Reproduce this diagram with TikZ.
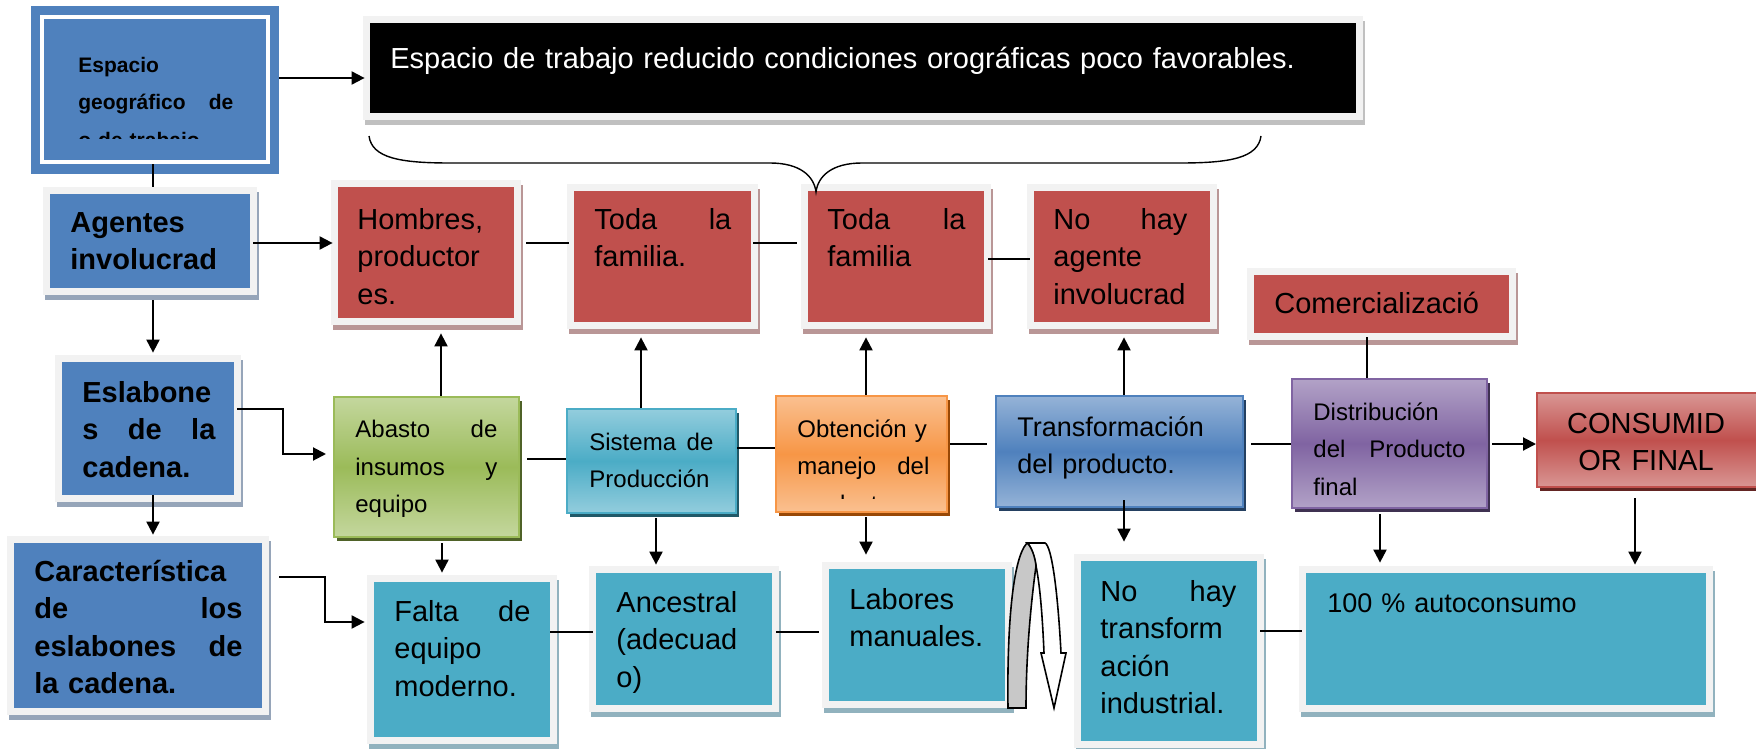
\documentclass[tikz,border=0pt]{standalone}
\usepackage{fontspec}
\setmainfont{Liberation Sans}
\usetikzlibrary{fit,arrows.meta}
\definecolor{bl}{RGB}{79,129,189}
\definecolor{rd}{RGB}{192,80,77}
\definecolor{tl}{RGB}{75,172,198}
\definecolor{fr}{RGB}{242,242,242}
\definecolor{shR}{RGB}{185,150,150}
\definecolor{shB}{RGB}{150,165,185}
\definecolor{shT}{RGB}{145,178,190}
\definecolor{shK}{RGB}{192,192,192}
\definecolor{gL}{RGB}{196,215,158}\definecolor{gM}{RGB}{155,187,89}\definecolor{gS}{RGB}{79,98,40}
\definecolor{tL}{RGB}{147,205,221}\definecolor{tM}{RGB}{75,172,198}\definecolor{tS}{RGB}{33,89,104}
\definecolor{oL}{RGB}{250,192,144}\definecolor{oM}{RGB}{247,150,70}\definecolor{oS}{RGB}{152,72,6}
\definecolor{bL}{RGB}{149,179,215}\definecolor{bM}{RGB}{79,129,189}\definecolor{bS}{RGB}{36,64,97}
\definecolor{pL}{RGB}{178,162,199}\definecolor{pM}{RGB}{128,100,162}\definecolor{pS}{RGB}{63,49,81}
\definecolor{rL}{RGB}{217,150,148}\definecolor{rM}{RGB}{192,80,77}\definecolor{rS}{RGB}{99,37,35}
\newcommand\jl[2]{\makebox[\linewidth]{#1\hfill #2}}
\newcommand\jlt[3]{\makebox[\linewidth]{#1\hfill #2\hfill #3}}
\begin{document}
\begin{tikzpicture}[x=0.5pt,y=-0.5pt,
  fbox/.style 2 args={inner sep=0pt, fill=#1,
     preaction={fill=#2, draw=#2, line width=7pt, transform canvas={shift={(1pt,-2.5pt)}}},
     preaction={draw=fr, line width=7pt}},
  gbox/.style n args={4}{inner sep=0pt, top color=#1, bottom color=#1, middle color=#2, draw=#3, line width=1pt,
     preaction={fill=#4, transform canvas={shift={(1.5pt,-2pt)}}}},
  txt/.style={anchor=base west, inner sep=0pt, align=left, font=\fontsize{14.5pt}{18.75pt}\selectfont},
  txtb/.style={txt, font=\bfseries\fontsize{14.5pt}{18.75pt}\selectfont},
  txts/.style={txt, font=\fontsize{12pt}{18.75pt}\selectfont},
  arr/.style={line width=1pt, -{Triangle[length=6.5pt,width=6.5pt]}},
  ln/.style={line width=1pt}]
\useasboundingbox (0,0) rectangle (1756,749);
\fill[white] (0,0) rectangle (1756,749);

% ---- boxes
\node[inner sep=0pt, fill=bl, fit={(31,6)(279,174)}] (esp) {};
\node[inner sep=0pt, fill=bl, draw=white, line width=2pt, fit={(42,17)(268,162)}] (espIn) {};
\node[fbox={black}{shK}, fit={(370,23)(1356,113)}] (blk) {};
\node[fbox={bl}{shB}, fit={(50,194)(250,288)}] (ag) {};
\node[fbox={bl}{shB}, fit={(62,362)(234,495)}] (esl) {};
\node[fbox={bl}{shB}, fit={(14,543)(262,708)}] (car) {};
\node[fbox={rd}{shR}, fit={(338,187)(514,318)}] (hom) {};
\node[fbox={rd}{shR}, fit={(574,191)(751,322)}] (t1) {};
\node[fbox={rd}{shR}, fit={(808,191)(984,322)}] (t2) {};
\node[fbox={rd}{shR}, fit={(1034,191)(1210,322)}] (nh) {};
\node[fbox={rd}{shR}, fit={(1254,275)(1509,333)}] (com) {};
\node[fbox={tl}{shT}, fit={(374,582)(550,737)}] (fal) {};
\node[fbox={tl}{shT}, fit={(596,573)(772,705)}] (anc) {};
\node[fbox={tl}{shT}, fit={(829,569)(1005,701)}] (lab) {};
\node[fbox={tl}{shT}, fit={(1081,561)(1257,741)}] (nht) {};
\node[fbox={tl}{shT}, fit={(1306,573)(1706,705)}] (cien) {};
\node[gbox={gL}{gM}{gM}{gS}, fit={(334,397)(519,537)}] (aba) {};
\node[gbox={tL}{tM}{tM}{tS}, fit={(567,409)(736,513)}] (sis) {};
\node[gbox={oL}{oM}{oM}{oS}, fit={(776,396)(947,512)}] (obt) {};
\node[gbox={bL}{bM}{bM}{bS}, fit={(996,396)(1243,507)}] (tra) {};
\node[gbox={pL}{pM}{pM}{pS}, fit={(1292,379)(1487,508)}] (dis) {};
\node[gbox={rL}{rM}{rM}{rS}, fit={(1537,393)(1762,487)}] (con) {};

% ---- brace
\draw[line width=0.7pt] (369,136) .. controls (372,158) and (400,163) .. (450,163) -- (770,163)
  .. controls (800,163) and (814,176) .. (816,192) .. controls (818,176) and (832,163) .. (862,163)
  -- (1180,163) .. controls (1230,163) and (1258,158) .. (1261,136);

% ---- U-turn arrow
\draw[line width=0.8pt, fill=white] (1027,543) -- (1045,543) .. controls (1052,546) and (1058,595) .. (1061,653)
  -- (1066,653) -- (1054,708) -- (1041,653) -- (1044,653) .. controls (1042,605) and (1038,558) .. (1029,545) -- cycle;
\draw[line width=0.8pt, fill={rgb,255:red,200;green,200;blue,200}] (1008,708) .. controls (1007,640) and (1011,560) .. (1027,543)
  .. controls (1031,546) and (1035,556) .. (1036,566) .. controls (1030,610) and (1026,660) .. (1026,708) -- cycle;

% ---- connectors
\draw[arr,shorten >=2.5pt] (esp.east |- 0,78) -- (blk.west |- 0,78);
\draw[ln,shorten >=3.5pt] (espIn.south -| 153,0) -- (ag.north -| 153,0);
\draw[arr,shorten <=1.5pt,shorten >=2.5pt] (ag.east |- 0,243) -- (hom.west |- 0,243);
\draw[arr,shorten <=6pt,shorten >=4.5pt] (ag.south -| 153,0) -- (esl.north -| 153,0);
\draw[arr,shorten <=1.5pt,shorten >=3.5pt] (esl.east |- 0,409) -- ++(49,0) |- (aba.west |- 0,454);
\draw[arr,shorten >=4pt] (esl.south -| 153,0) -- (car.north -| 153,0);
\draw[arr,shorten <=8.5pt,shorten >=4.5pt] (car.east |- 0,577) -- ++(63,0) |- (fal.west |- 0,622);
\draw[arr,shorten >=7.5pt] (aba.north -| 441,0) -- (hom.south -| 441,0);
\draw[arr,shorten <=2.5pt,shorten >=4.5pt] (aba.south -| 442,0) -- (fal.north -| 442,0);
\draw[ln,shorten <=3.5pt] (aba.east |- 0,459) -- (sis.west |- 0,459);
\draw[arr,shorten >=7.5pt] (sis.north -| 641,0) -- (t1.south -| 641,0);
\draw[arr,shorten <=2pt,shorten >=4pt] (sis.south -| 656,0) -- (anc.north -| 656,0);
\draw[ln] (sis.east |- 0,448) -- (obt.west |- 0,448);
\draw[arr,shorten >=7.5pt] (obt.north -| 866,0) -- (t2.south -| 866,0);
\draw[arr,shorten <=2pt,shorten >=7pt] (obt.south -| 866,0) -- (lab.north -| 866,0);
\draw[ln,shorten <=1pt,shorten >=4pt] (obt.east |- 0,444) -- (tra.west |- 0,444);
\draw[arr,shorten >=7.5pt] (tra.north -| 1124,0) -- (nh.south -| 1124,0);
\draw[arr,shorten <=-4pt,shorten >=9.5pt] (tra.south -| 1124,0) -- (nht.north -| 1124,0);
\draw[ln,shorten <=3.5pt] (tra.east |- 0,444) -- (dis.west |- 0,444);
\draw[ln,shorten <=2pt] (com.south -| 1367,0) -- (dis.north -| 1367,0);
\draw[arr,shorten <=2pt] (dis.east |- 0,444) -- (con.west |- 0,444);
\draw[arr,shorten <=2.5pt,shorten >=5pt] (dis.south -| 1380,0) -- (cien.north -| 1380,0);
\draw[arr,shorten <=5pt,shorten >=4pt] (con.south -| 1635,0) -- (cien.north -| 1635,0);
\draw[ln,shorten <=6pt,shorten >=2.5pt] (hom.east |- 0,243) -- (t1.west |- 0,243);
\draw[ln,shorten <=1pt,shorten >=5.5pt] (t1.east |- 0,243) -- (t2.west |- 0,243);
\draw[ln,shorten <=2pt,shorten >=2pt] (t2.east |- 0,259) -- (nh.west |- 0,259);
\draw[ln,shorten >=1.5pt] (fal.east |- 0,632) -- (anc.west |- 0,632);
\draw[ln,shorten <=2pt,shorten >=5pt] (anc.east |- 0,632) -- (lab.west |- 0,632);
\draw[ln,shorten <=1.5pt,shorten >=2pt] (nht.east |- 0,631) -- (cien.west |- 0,631);

% ---- texts
\begin{scope}
\clip (44,19) rectangle (266,138.5);
\node[txt, font=\bfseries\fontsize{10.5pt}{18.75pt}\selectfont, text width=77.5pt] (espT) at (78,72.5)
  {Espacio\\\jl{geográfico}{de}\\o de trabajo};
\end{scope}
\node[txt, text=white, text width=480pt] (blkT) at (390,69) {Espacio de trabajo reducido condiciones orográficas poco favorables.};
\node[txtb, text width=100pt] (agT) at (70,232) {Agentes\\involucrad};
\node[txtb, text width=66.5pt] (eslT) at (82,402) {Eslabone\\\jlt{s}{de}{la}\\cadena.};
\node[txtb, text width=104pt] (carT) at (34,581) {Característica\\\jl{de}{los}\\\jl{eslabones}{de}\\la cadena.};
\node[txt, text width=80pt] (homT) at (357,229) {Hombres,\\productor\\es.};
\node[txt, text width=68.5pt] (t1T) at (594,229) {\jl{Toda}{la}\\familia.};
\node[txt, text width=69pt] (t2T) at (827,229) {\jl{Toda}{la}\\familia};
\node[txt, text width=67pt] (nhT) at (1053,229) {\jl{No}{hay}\\agente\\involucrad};
\node[txt, text width=120pt] (comT) at (1274,313) {Comercializació};
\node[txts, text width=71pt] (abaT) at (355,437.5) {\jl{Abasto}{de}\\\jl{insumos}{y}\\equipo};
\node[txts, text width=62pt] (sisT) at (589,450) {\jl{Sistema}{de}\\Producción};
\begin{scope}
\clip (778,398) rectangle (945,498);
\node[txts, text width=66pt] (obtT) at (797,437) {\mbox{Obtención y}\\\jl{manejo}{del}\\producto};
\end{scope}
\node[txt, font=\fontsize{13.5pt}{18.75pt}\selectfont, text width=110pt] (traT) at (1017,436) {Transformación\\del producto.};
\node[txts, text width=76pt] (disT) at (1313,420) {Distribución\\\jl{del}{Producto}\\final};
\node[txt, anchor=base, align=center, text width=110pt] (conT) at (1646,433) {CONSUMID\\OR FINAL};
\node[txt, text width=68pt] (falT) at (394,621) {\jl{Falta}{de}\\equipo\\moderno.};
\node[txt, text width=80pt] (ancT) at (616,612) {Ancestral\\(adecuad\\o)};
\node[txt, text width=80pt] (labT) at (849,609) {Labores\\manuales.};
\node[txt, text width=68pt] (nhtT) at (1100,601) {\jl{No}{hay}\\transform\\ación\\industrial.};
\node[txt, font=\fontsize{13.5pt}{18.75pt}\selectfont, text width=180pt] (cienT) at (1327,612) {100 \% autoconsumo};
\end{tikzpicture}
\end{document}
